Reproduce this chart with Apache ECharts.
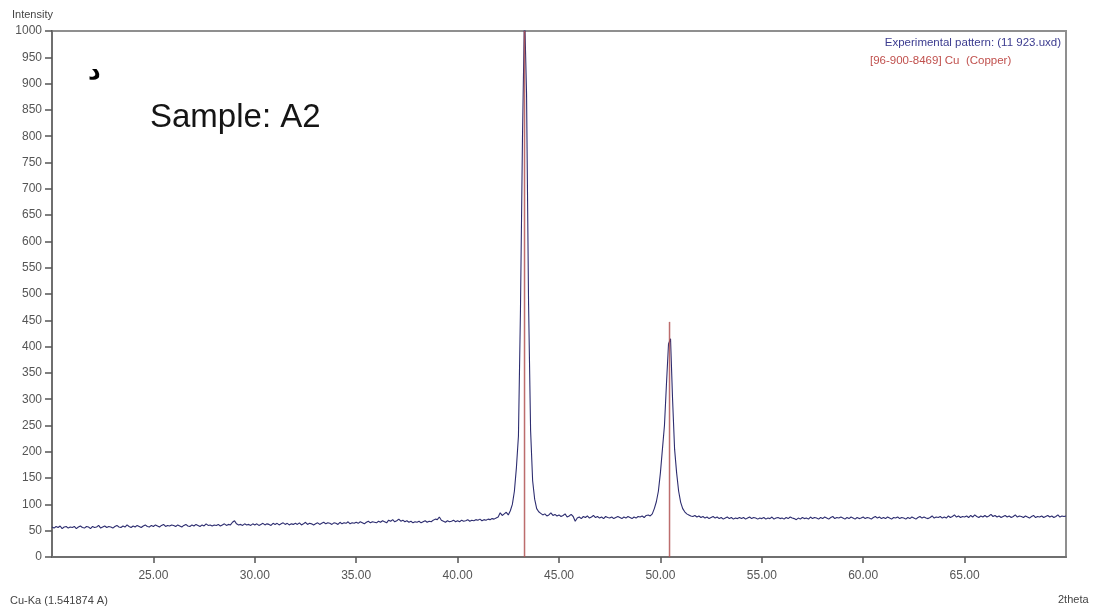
<!DOCTYPE html>
<html>
<head>
<meta charset="utf-8">
<script src="https://cdn.jsdelivr.net/npm/echarts@6/dist/echarts.min.js"></script>
<style>
  html, body { margin: 0; padding: 0; background: #ffffff; }
  #chart { width: 1097px; height: 611px; }
</style>
</head>
<body>
<div id="chart"></div>
<script>
// Scan settings of the measured pattern (uniform 2theta step)
const scanStart = 20.0;
const scanStep = 0.1;

// Measured intensity, one row per degree of 2theta (20.0 ... 70.0)
const counts = [
  57,55,58,56,59,54,57,58,55,57,   // 20
  56,58,54,57,59,56,55,58,57,54,   // 21
  58,56,57,60,55,57,59,56,58,57,   // 22
  55,58,60,57,56,59,57,61,58,56,   // 23
  59,57,60,58,56,59,61,58,57,60,   // 24
  58,61,59,57,60,62,58,60,59,61,   // 25
  60,58,61,59,57,60,62,59,58,61,   // 26
  59,62,60,58,61,59,63,60,61,59,   // 27
  61,60,62,59,61,63,60,62,61,66,   // 28
  69,63,61,62,60,63,61,62,60,63,   // 29
  61,63,60,62,64,61,63,62,60,64,   // 30
  62,64,61,63,65,62,64,61,63,62,   // 31
  64,62,65,61,63,66,62,64,63,61,   // 32
  63,65,62,64,66,63,65,64,62,65,   // 33
  64,62,66,63,65,64,67,63,65,64,   // 34
  66,64,67,65,63,66,68,65,67,66,   // 35
  65,68,66,69,67,65,70,68,71,67,   // 36
  69,72,68,70,67,69,66,68,65,67,   // 37
  66,68,65,67,69,66,68,67,70,72,   // 38
  71,76,70,68,66,69,67,68,70,67,   // 39
  69,67,70,68,69,71,68,70,69,71,   // 40
  70,72,69,71,70,72,71,73,72,74,   // 41
  76,84,79,82,85,80,88,100,125,170, // 42
  230,470,800,1040,880,480,240,145,110,92, // 43
  86,83,80,82,78,80,84,79,81,78,   // 44
  80,77,79,82,76,78,81,77,68,74,   // 45
  76,73,77,75,78,74,76,79,75,77,   // 46
  74,76,73,77,75,74,76,73,75,77,   // 47
  75,73,76,74,77,75,73,76,74,77,   // 48
  76,78,75,79,80,78,82,92,105,125, // 49
  160,205,250,330,405,415,300,205,160,125, // 50
  104,92,86,82,80,78,77,79,76,78,  // 51
  75,77,74,76,73,75,77,74,76,73,   // 52
  75,72,74,76,73,75,72,74,73,75,   // 53
  73,75,72,74,76,73,75,74,72,74,   // 54
  73,75,72,74,73,76,72,74,75,73,   // 55
  74,72,75,73,76,74,73,71,74,72,   // 56
  75,73,74,72,76,73,75,74,72,75,   // 57
  73,76,74,72,75,77,73,75,74,76,   // 58
  74,72,75,73,76,74,72,75,73,74,   // 59
  76,73,75,74,72,75,77,74,76,73,   // 60
  75,73,76,74,72,75,74,76,73,75,   // 61
  74,72,75,73,76,74,72,75,77,74,   // 62
  76,74,73,75,78,74,76,75,77,74,   // 63
  76,74,78,75,77,80,76,78,75,77,   // 64
  76,78,75,79,76,80,77,75,78,76,   // 65
  79,76,78,81,77,79,76,78,75,77,   // 66
  79,76,78,75,77,80,76,78,77,75,   // 67
  78,76,74,77,79,75,77,76,78,75,   // 68
  77,79,76,78,75,77,80,76,78,77,   // 69
  78                               // 70
];

// Reference pattern 96-900-8469, Cu (Copper): peak positions and scaled heights
const refPositions = [43.30, 50.45];
const refHeights = [1000, 447];

// Axis ranges
const xRange = [20, 70];
const yRange = [0, 1000];
const xStep = 5;
const yStep = 50;

const patternData = counts.map((c, i) => [+(scanStart + i * scanStep).toFixed(2), c]);
const refData = refPositions.map((p, i) => [p, refHeights[i]]);

const chart = echarts.init(document.getElementById('chart'), null, { renderer: 'canvas' });

const axisFont = 'Liberation Sans, Arial, sans-serif';

chart.setOption({
  animation: false,
  backgroundColor: '#ffffff',
  grid: {
    left: 52, right: 31, top: 31, bottom: 54,
    show: true,
    borderColor: '#8f8f8f',
    borderWidth: 2,
    backgroundColor: 'transparent'
  },
  xAxis: {
    type: 'value',
    min: xRange[0], max: xRange[1], interval: xStep,
    axisLine: { show: true, onZero: false, lineStyle: { color: '#6f6f6f', width: 2 } },
    axisTick: { show: true, inside: false, length: 6, lineStyle: { color: '#555', width: 1.5 } },
    axisLabel: {
      showMinLabel: false, showMaxLabel: false,
      margin: 13, color: '#555', fontSize: 12, fontFamily: axisFont,
      formatter: v => v.toFixed(2)
    },
    splitLine: { show: false }
  },
  yAxis: {
    type: 'value',
    min: yRange[0], max: yRange[1], interval: yStep,
    axisLine: { show: true, onZero: false, lineStyle: { color: '#6f6f6f', width: 2 } },
    axisTick: { show: true, inside: false, length: 7, lineStyle: { color: '#555', width: 1.5 } },
    axisLabel: {
      margin: 10, color: '#555', fontSize: 12, fontFamily: axisFont,
      formatter: v => String(v)
    },
    splitLine: { show: false }
  },
  series: [
    {
      name: 'Experimental pattern: (11 923.uxd)',
      type: 'line',
      data: patternData,
      showSymbol: false,
      clip: true,
      lineStyle: { color: '#2d2d70', width: 1.1 },
      z: 2
    },
    {
      name: '[96-900-8469] Cu  (Copper)',
      type: 'bar',
      data: refData,
      barWidth: 1.5,
      itemStyle: { color: 'rgba(178,84,84,0.85)' },
      z: 3
    }
  ],
  graphic: [
    { type: 'text', left: 12, top: 9,
      style: { text: 'Intensity', fill: '#444', font: '11px ' + axisFont } },
    { type: 'text', left: 10, top: 595,
      style: { text: 'Cu-Ka (1.541874 A)', fill: '#444', font: '11px ' + axisFont } },
    { type: 'text', left: 1058, top: 594,
      style: { text: '2theta', fill: '#444', font: '11px ' + axisFont } },
    { type: 'text', right: 36, top: 37,
      style: { text: 'Experimental pattern: (11 923.uxd)', fill: '#3b3b8f', font: '11.5px ' + axisFont } },
    { type: 'text', left: 870, top: 55,
      style: { text: '[96-900-8469] Cu  (Copper)', fill: '#c0504d', font: '11.5px ' + axisFont } },
    { type: 'text', left: 88, top: 60,
      style: { text: 'د', fill: '#000', font: 'bold 25px DejaVu Sans, sans-serif' } },
    { type: 'text', left: 150, top: 101,
      style: { text: 'Sample: A2', fill: '#151515', font: '33px ' + axisFont } }
  ]
});
</script>
</body>
</html>
